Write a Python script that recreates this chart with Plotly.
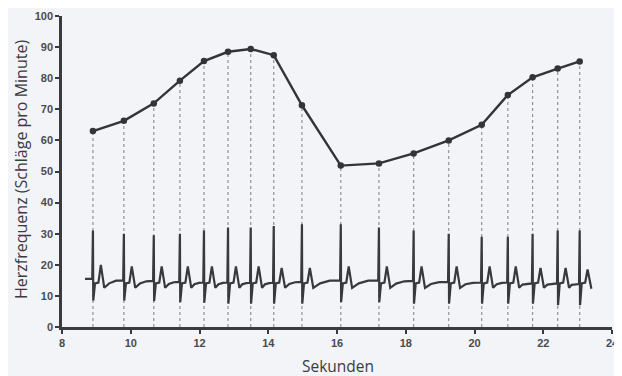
import plotly.graph_objects as go

# Heart-rate samples (time in seconds, beats per minute)
beat_times = [8.9, 9.8, 10.67, 11.43, 12.13, 12.83, 13.49, 14.16, 14.98,
              16.11, 17.22, 18.23, 19.25, 20.21, 20.97, 21.69, 22.42, 23.06]
heart_rate = [63.0, 66.3, 71.9, 79.2, 85.5, 88.5, 89.4, 87.4, 71.3,
              51.9, 52.6, 55.8, 60.0, 65.0, 74.6, 80.3, 83.1, 85.4]

# ECG trace read values per beat
r_peak = [31, 30, 29.5, 30, 31, 32, 32, 32.5, 33, 33, 32, 31, 30, 29, 29, 30, 31, 31]
s_trough = [8.5, 8.5, 8.3, 8, 7.8, 7.5, 7.5, 7.5, 7.5, 8, 8, 7.5, 7.5, 7.5, 7.5, 7.5, 7, 7]
t_peak = [20, 19.5, 19.5, 19.5, 19.5, 19.5, 19.5, 19, 19, 19.5, 19.5, 19.5, 19.5, 19.5, 19.5, 19, 19, 18.5]
pre_base = [15.5, 15, 14.8, 14.5, 14.3, 14.3, 14.2, 14.2, 14.5, 15, 15, 14.8, 14.5, 14.3, 14.3, 14, 14, 13.8]
ecg_start = (8.67, 15.5)
ecg_end = (23.4, 12.3)

x_ticks = [8, 10, 12, 14, 16, 18, 20, 22, 24]
y_ticks = [0, 10, 20, 30, 40, 50, 60, 70, 80, 90, 100]

x_title = "Sekunden"
y_title = "Herzfrequenz (Schläge pro Minute)"

# Build ECG polyline from read values
ex, ey = [ecg_start[0]], [ecg_start[1]]
n = len(beat_times)
for i, t in enumerate(beat_times):
    ex += [t - 0.02, t, t + 0.01, t + 0.06, t + 0.16, t + 0.23, t + 0.33]
    ey += [pre_base[i], r_peak[i], s_trough[i], 14.0, 14.3, t_peak[i], 12.6]
    if i < n - 1:
        nxt = beat_times[i + 1]
        gap = nxt - t
        ex += [t + 0.33 + 0.25 * (gap - 0.33), t + 0.33 + 0.6 * (gap - 0.33)]
        ey += [13.4 + 0.4 * (pre_base[i + 1] - 13.4), pre_base[i + 1] - 0.1]
ex.append(ecg_end[0])
ey.append(ecg_end[1])

# Dotted drop lines
dx, dy = [], []
for t, h in zip(beat_times, heart_rate):
    dx += [t, t, None]
    dy += [0, h, None]

fig = go.Figure()
fig.add_trace(go.Scatter(x=dx, y=dy, mode="lines",
                         line=dict(color="#909398", width=1.2, dash="dot"),
                         hoverinfo="skip", showlegend=False))
fig.add_trace(go.Scatter(x=ex, y=ey, mode="lines",
                         line=dict(color="#38393c", width=2.2),
                         showlegend=False))
fig.add_trace(go.Scatter(x=beat_times, y=heart_rate, mode="lines+markers",
                         line=dict(color="#333438", width=2.4),
                         marker=dict(color="#333438", size=6.5),
                         showlegend=False))

fig.update_layout(
    width=614, height=368,
    margin=dict(l=54, r=10, t=8, b=49),
    paper_bgcolor="#f2f4f8", plot_bgcolor="#f2f4f8",
    font=dict(family="Liberation Sans, Arial, sans-serif", color="#3a3b3f"),
    annotations=[
        dict(text=x_title, xref="paper", yref="paper", x=0.501, y=-0.124,
             xanchor="center", yanchor="middle", showarrow=False,
             font=dict(size=15.5, color="#3a3b3f", family="Open Sans, sans-serif")),
        dict(text=y_title, xref="paper", yref="paper", x=-0.0745, y=0.505,
             xanchor="center", yanchor="middle", showarrow=False, textangle=-90,
             font=dict(size=16, color="#3a3b3f", family="Open Sans, sans-serif")),
    ],
)
tickfont = dict(size=11, color="#4a4b50", family="Liberation Sans, Arial", weight="bold")
fig.update_xaxes(range=[8, 24], tickvals=x_ticks, showgrid=False, zeroline=False,
                 showline=True, linecolor="#3a3b3f", linewidth=2.5, automargin=False,
                 ticks="outside", ticklen=4, tickwidth=2, tickcolor="#3a3b3f",
                 tickfont=tickfont)
fig.update_yaxes(range=[0, 100], tickvals=y_ticks, showgrid=False, zeroline=False,
                 showline=True, linecolor="#3a3b3f", linewidth=2.5, automargin=False,
                 ticks="outside", ticklen=4, tickwidth=2, tickcolor="#3a3b3f",
                 tickfont=tickfont)

fig.write_html("out.html", post_script="document.body.style.overflow='hidden';")
